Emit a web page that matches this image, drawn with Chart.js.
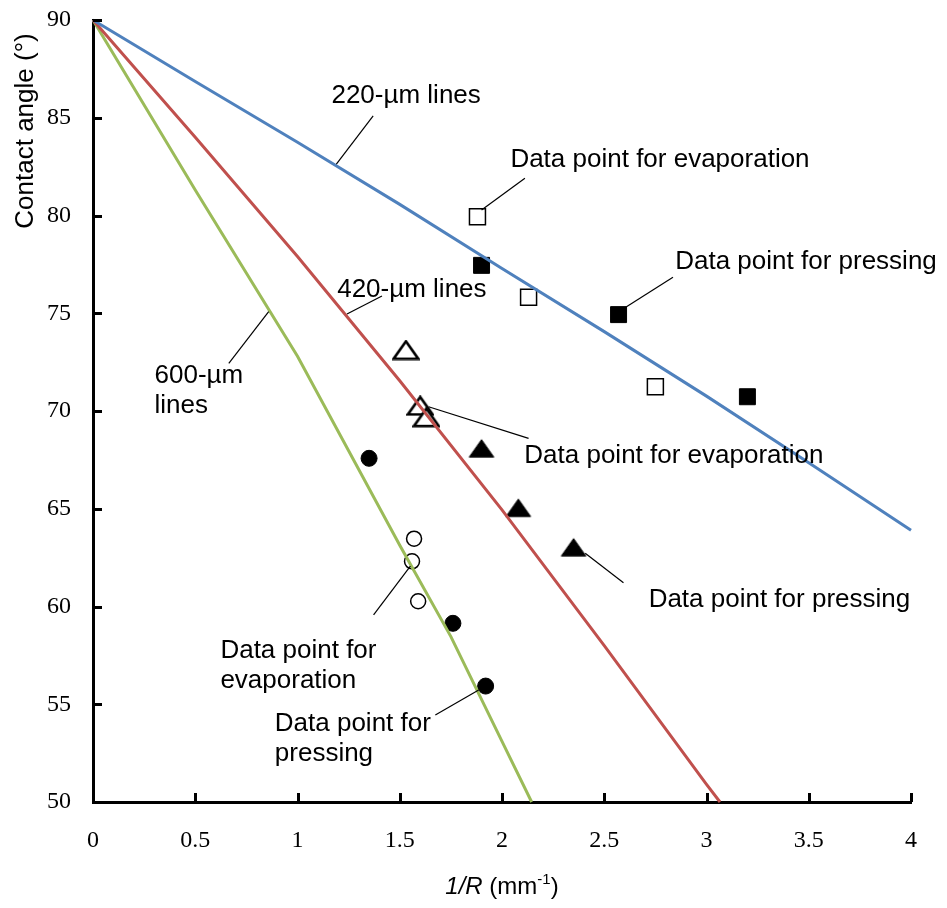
<!DOCTYPE html>
<html><head><meta charset="utf-8">
<script src="https://cdn.jsdelivr.net/npm/chart.js@4.4.0/dist/chart.umd.min.js"></script>
<style>html,body{margin:0;padding:0;background:#fff;}#wrap{width:947px;height:908px;}</style>
</head><body><div id="wrap"><canvas id="c" width="947" height="908"></canvas></div>
<script>
// ---- theoretical lines ----
const line220X = [0, 0.5, 1, 1.5, 2, 2.5, 3, 3.5, 4];
const line220Y = [90, 86.85, 83.75, 80.57, 77.29, 74.06, 70.76, 67.35, 63.9];
const line420X = [0, 0.5, 1, 1.5, 2, 2.5, 3, 3.066];
const line420Y = [90, 84.0, 77.9, 71.55, 64.94, 58.0, 50.9, 50];
const line600X = [0, 0.5, 1, 1.5, 1.75, 2, 2.145];
const line600Y = [90, 81.3, 72.8, 63.13, 58.46, 53.1, 50];
// ---- data points ----
const evap220X = [1.88, 2.13, 2.75];
const evap220Y = [79.94, 75.82, 71.24];
const press220X = [1.90, 2.57, 3.20];
const press220Y = [77.45, 74.93, 70.73];
const evap420X = [1.53, 1.60, 1.63];
const evap420Y = [73.12, 70.27, 69.68];
const press420X = [1.90, 2.08, 2.35];
const press420Y = [68.09, 65.05, 63.03];
const evap600X = [1.57, 1.56, 1.59];
const evap600Y = [63.47, 62.31, 60.27];
const press600X = [1.35, 1.76, 1.92];
const press600Y = [67.58, 59.14, 55.93];
// ---- axes ----
const xTickValues = [0, 0.5, 1, 1.5, 2, 2.5, 3, 3.5, 4];
const xTickLabels = ['0', '0.5', '1', '1.5', '2', '2.5', '3', '3.5', '4'];
const yTickValues = [50, 55, 60, 65, 70, 75, 80, 85, 90];
const yTickLabels = ['50', '55', '60', '65', '70', '75', '80', '85', '90'];
const yTitle = 'Contact angle (°)';
// ---- annotations (data coordinates) ----
const noteTexts = [['220-µm lines'], ['Data point for evaporation'], ['Data point for pressing'], ['420-µm lines'], ['600-µm', 'lines'], ['Data point for evaporation'], ['Data point for pressing'], ['Data point for', 'evaporation'], ['Data point for', 'pressing']];
const noteX = [1.166, 2.041, 2.847, 1.194, 0.301, 2.109, 2.717, 0.623, 0.889];
const noteY = [85.75, 82.48, 77.25, 75.85, 71.42, 67.36, 59.99, 57.39, 53.65];
const leadFromX = [1.190, 2.112, 2.836, 1.413, 0.664, 1.641, 2.407, 1.372, 1.674];
const leadFromY = [82.63, 81.90, 76.84, 75.88, 72.44, 70.22, 62.72, 59.57, 54.45];
const leadToX = [1.37, 1.900, 2.603, 1.242, 0.859, 2.130, 2.594, 1.552, 1.886];
const leadToY = [85.1, 80.28, 75.30, 74.96, 75.08, 68.60, 61.22, 62.07, 55.73];

// triangle marker images (bounding-box centred, like the original markers)
function triImage(fill, lw) {
  const c = document.createElement('canvas');
  c.width = 28; c.height = 21;
  const g = c.getContext('2d');
  g.beginPath();
  g.moveTo(14, 1.8); g.lineTo(26.3, 19.2); g.lineTo(1.7, 19.2); g.closePath();
  g.fillStyle = fill; g.fill();
  g.lineWidth = lw; g.strokeStyle = '#000'; g.lineJoin = 'miter'; g.stroke();
  return c;
}
const triOpen = triImage('#fff', 2.6);
const triFilled = triImage('#000', 1);

const pts = (xs, ys) => xs.map((x, i) => ({x: x, y: ys[i]}));
const lineDs = (xs, ys, color) => ({data: pts(xs, ys), showLine: true, pointRadius: 0, borderColor: color, borderWidth: 3, tension: 0, clip: false});
const markDs = (xs, ys, style, r, fill, bw) => ({data: pts(xs, ys), showLine: false, pointStyle: style, pointRadius: r, pointHoverRadius: r, backgroundColor: fill, borderColor: '#000', borderWidth: bw});

const overlay = {
  id: 'overlay',
  afterDraw(chart) {
    const ctx = chart.ctx, xs = chart.scales.x, ys = chart.scales.y;
    ctx.save();
    ctx.strokeStyle = '#000';
    ctx.lineWidth = 3;
    yTickValues.forEach(v => { const p = Math.round(ys.getPixelForValue(v)) + 0.5; ctx.beginPath(); ctx.moveTo(xs.left, p); ctx.lineTo(xs.left + 9, p); ctx.stroke(); });
    xTickValues.forEach(v => { const p = Math.round(xs.getPixelForValue(v)) + 0.5; ctx.beginPath(); ctx.moveTo(p, ys.bottom); ctx.lineTo(p, ys.bottom - 9); ctx.stroke(); });
    // leader lines
    ctx.lineWidth = 1.2;
    for (let i = 0; i < noteTexts.length; i++) {
      ctx.beginPath();
      ctx.moveTo(xs.getPixelForValue(leadFromX[i]), ys.getPixelForValue(leadFromY[i]));
      ctx.lineTo(xs.getPixelForValue(leadToX[i]), ys.getPixelForValue(leadToY[i]));
      ctx.stroke();
    }
    // notes
    ctx.fillStyle = '#000';
    ctx.font = '26px "Liberation Sans", Arial, sans-serif';
    ctx.textAlign = 'left';
    ctx.textBaseline = 'alphabetic';
    for (let i = 0; i < noteTexts.length; i++) {
      const px = xs.getPixelForValue(noteX[i]), py = ys.getPixelForValue(noteY[i]);
      noteTexts[i].forEach((t, k) => ctx.fillText(t, px, py + k * 30));
    }
    // y title
    ctx.save();
    ctx.translate(26, ys.top + 111);
    ctx.rotate(-Math.PI / 2);
    ctx.textAlign = 'center';
    ctx.textBaseline = 'middle';
    ctx.font = '26px "Liberation Sans", Arial, sans-serif';
    ctx.fillText(yTitle, 0, 0);
    ctx.restore();
    // x title: 1/R (mm^-1)
    const cx = (xs.left + xs.right) / 2, by = 894;
    const fN = '24px "Liberation Sans", Arial, sans-serif', fI = 'italic 24px "Liberation Sans", Arial, sans-serif', fS = '15px "Liberation Sans", Arial, sans-serif';
    const parts = [['1/R', fI, 0], [' (mm', fN, 0], ['-1', fS, -10], [')', fN, 0]];
    let tw = 0;
    parts.forEach(p => { ctx.font = p[1]; tw += ctx.measureText(p[0]).width; });
    let x0 = cx - tw / 2;
    ctx.textAlign = 'left';
    ctx.textBaseline = 'alphabetic';
    parts.forEach(p => { ctx.font = p[1]; ctx.fillText(p[0], x0, by + p[2]); x0 += ctx.measureText(p[0]).width; });
    ctx.restore();
  }
};

new Chart(document.getElementById('c'), {
  type: 'scatter',
  data: {datasets: [
    lineDs(line220X, line220Y, '#4F81BD'),
    lineDs(line420X, line420Y, '#C0504D'),
    lineDs(line600X, line600Y, '#9BBB59'),
    markDs(evap220X, evap220Y, 'rect', 11.3, '#fff', 1.5),
    markDs(press220X, press220Y, 'rect', 11.3, '#000', 1),
    markDs(evap420X, evap420Y, triOpen, 13, '#fff', 2.5),
    markDs(press420X, press420Y, triFilled, 13, '#000', 1),
    markDs(evap600X, evap600Y, 'circle', 7.5, '#fff', 1.5),
    markDs(press600X, press600Y, 'circle', 8, '#000', 1)
  ]},
  options: {
    responsive: false, animation: false, devicePixelRatio: 1,
    layout: {padding: {top: 20, right: 36, left: 0, bottom: 0}},
    plugins: {legend: {display: false}, tooltip: {enabled: false}},
    scales: {
      x: {type: 'linear', min: 0, max: 4,
        afterFit: s => { s.height = 106; s.paddingLeft = 0; s.paddingRight = 0; },
        afterBuildTicks: s => { s.ticks = xTickValues.map(v => ({value: v})); },
        ticks: {color: '#000', font: {family: '"Liberation Serif", "Times New Roman", serif', size: 24}, padding: 24, maxRotation: 0, autoSkip: false,
          callback: (v, i) => xTickLabels[i]},
        grid: {display: false, drawTicks: false},
        border: {display: true, color: '#000', width: 3}},
      y: {type: 'linear', min: 50, max: 90,
        afterFit: s => { s.width = 93; s.paddingTop = 0; s.paddingBottom = 0; },
        afterBuildTicks: s => { s.ticks = yTickValues.map(v => ({value: v})); },
        ticks: {color: '#000', font: {family: '"Liberation Serif", "Times New Roman", serif', size: 24}, padding: 22, autoSkip: false,
          callback: (v, i) => yTickLabels[i]},
        grid: {display: false, drawTicks: false},
        border: {display: true, color: '#000', width: 3}}
    }
  },
  plugins: [overlay]
});
</script></body></html>
